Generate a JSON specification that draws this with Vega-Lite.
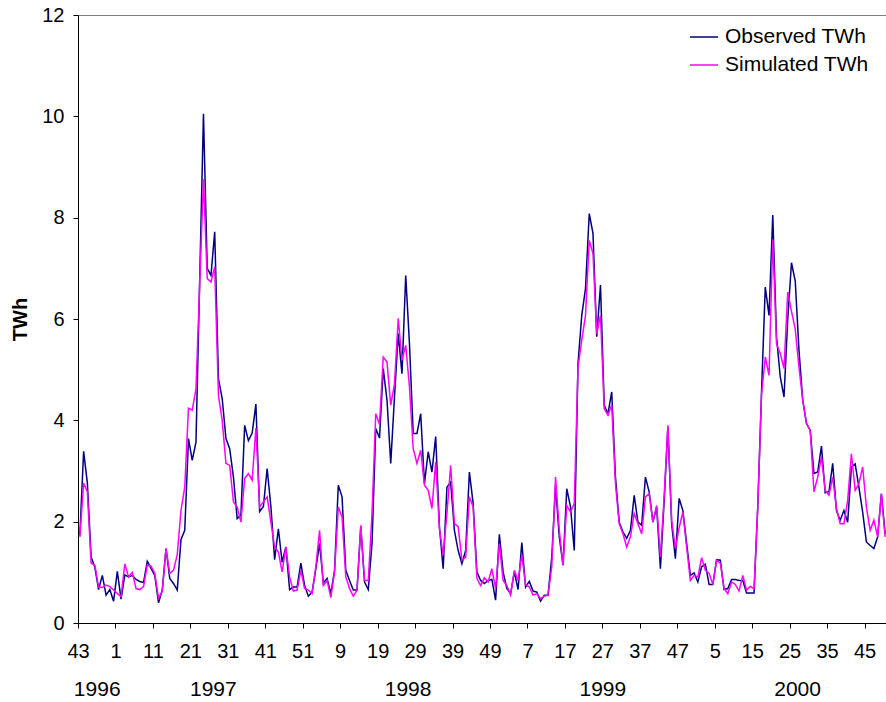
{
  "$schema": "https://vega.github.io/schema/vega-lite/v6.json",
  "width": 809,
  "height": 608,
  "autosize": {"type": "none"},
  "padding": {"left": 78, "top": 15, "right": 0, "bottom": 79},
  "background": "white",
  "config": {
    "font": "Liberation Sans",
    "view": {"stroke": "#808080", "strokeWidth": 1},
    "axis": {"domainColor": "#000000", "tickColor": "#000000", "labelColor": "#000000", "titleColor": "#000000", "grid": false, "labelFontSize": 20, "tickSize": 5, "domainWidth": 1, "tickWidth": 1}
  },
  "data": {"values": [
    {"i":0,"obs":1.73,"sim":1.70},{"i":1,"obs":3.39,"sim":2.76},{"i":2,"obs":2.76,"sim":2.59},{"i":3,"obs":1.30,"sim":1.18},{"i":4,"obs":1.10,"sim":1.14},
    {"i":5,"obs":0.66,"sim":0.71},{"i":6,"obs":0.94,"sim":0.70},{"i":7,"obs":0.55,"sim":0.75},{"i":8,"obs":0.66,"sim":0.72},{"i":9,"obs":0.43,"sim":0.65},
    {"i":10,"obs":1.02,"sim":0.58},{"i":11,"obs":0.47,"sim":0.52},{"i":12,"obs":0.95,"sim":1.17},{"i":13,"obs":0.91,"sim":0.91},{"i":14,"obs":0.94,"sim":1.00},
    {"i":15,"obs":0.86,"sim":0.68},{"i":16,"obs":0.82,"sim":0.66},{"i":17,"obs":0.80,"sim":0.72},{"i":18,"obs":1.22,"sim":1.14},{"i":19,"obs":1.08,"sim":1.12},
    {"i":20,"obs":0.94,"sim":0.98},{"i":21,"obs":0.40,"sim":0.49},{"i":22,"obs":0.65,"sim":0.62},{"i":23,"obs":1.47,"sim":1.47},{"i":24,"obs":0.88,"sim":0.98},
    {"i":25,"obs":0.78,"sim":1.04},{"i":26,"obs":0.65,"sim":1.35},{"i":27,"obs":1.65,"sim":2.22},{"i":28,"obs":1.83,"sim":2.68},{"i":29,"obs":3.64,"sim":4.24},
    {"i":30,"obs":3.21,"sim":4.20},{"i":31,"obs":3.57,"sim":4.62},{"i":32,"obs":6.80,"sim":6.70},{"i":33,"obs":10.05,"sim":8.76},{"i":34,"obs":7.00,"sim":6.80},
    {"i":35,"obs":6.86,"sim":6.73},{"i":36,"obs":7.72,"sim":7.03},{"i":37,"obs":4.82,"sim":4.49},{"i":38,"obs":4.43,"sim":4.00},{"i":39,"obs":3.64,"sim":3.15},
    {"i":40,"obs":3.44,"sim":3.11},{"i":41,"obs":2.88,"sim":2.39},{"i":42,"obs":2.06,"sim":2.29},{"i":43,"obs":2.13,"sim":1.99},{"i":44,"obs":3.90,"sim":2.85},
    {"i":45,"obs":3.60,"sim":2.95},{"i":46,"obs":3.75,"sim":2.82},{"i":47,"obs":4.32,"sim":3.85},{"i":48,"obs":2.20,"sim":2.29},{"i":49,"obs":2.30,"sim":2.39},
    {"i":50,"obs":3.05,"sim":2.49},{"i":51,"obs":2.30,"sim":1.99},{"i":52,"obs":1.25,"sim":1.50},{"i":53,"obs":1.86,"sim":1.40},{"i":54,"obs":1.20,"sim":1.01},
    {"i":55,"obs":1.50,"sim":1.50},{"i":56,"obs":0.66,"sim":0.91},{"i":57,"obs":0.71,"sim":0.63},{"i":58,"obs":0.71,"sim":0.65},{"i":59,"obs":1.18,"sim":1.04},
    {"i":60,"obs":0.74,"sim":0.68},{"i":61,"obs":0.53,"sim":0.65},{"i":62,"obs":0.61,"sim":0.58},{"i":63,"obs":1.07,"sim":1.11},{"i":64,"obs":1.57,"sim":1.83},
    {"i":65,"obs":0.79,"sim":0.74},{"i":66,"obs":0.88,"sim":0.84},{"i":67,"obs":0.58,"sim":0.50},{"i":68,"obs":1.04,"sim":1.01},{"i":69,"obs":2.72,"sim":2.29},
    {"i":70,"obs":2.49,"sim":2.09},{"i":71,"obs":1.04,"sim":0.91},{"i":72,"obs":0.84,"sim":0.68},{"i":73,"obs":0.65,"sim":0.53},{"i":74,"obs":0.65,"sim":0.65},
    {"i":75,"obs":1.90,"sim":1.93},{"i":76,"obs":0.81,"sim":0.84},{"i":77,"obs":0.66,"sim":0.84},{"i":78,"obs":1.57,"sim":2.16},{"i":79,"obs":3.84,"sim":4.13},
    {"i":80,"obs":3.65,"sim":3.92},{"i":81,"obs":5.02,"sim":5.25},{"i":82,"obs":4.40,"sim":5.15},{"i":83,"obs":3.15,"sim":4.30},{"i":84,"obs":4.46,"sim":4.72},
    {"i":85,"obs":5.71,"sim":6.01},{"i":86,"obs":4.92,"sim":5.19},{"i":87,"obs":6.86,"sim":5.48},{"i":88,"obs":5.51,"sim":4.66},{"i":89,"obs":3.74,"sim":3.44},
    {"i":90,"obs":3.74,"sim":3.15},{"i":91,"obs":4.13,"sim":3.41},{"i":92,"obs":2.75,"sim":2.72},{"i":93,"obs":3.38,"sim":2.62},{"i":94,"obs":2.98,"sim":2.26},
    {"i":95,"obs":3.68,"sim":3.18},{"i":96,"obs":1.90,"sim":1.86},{"i":97,"obs":1.07,"sim":1.34},{"i":98,"obs":2.68,"sim":2.16},{"i":99,"obs":2.78,"sim":3.11},
    {"i":100,"obs":1.83,"sim":1.96},{"i":101,"obs":1.43,"sim":1.90},{"i":102,"obs":1.17,"sim":1.24},{"i":103,"obs":1.43,"sim":1.30},{"i":104,"obs":2.98,"sim":2.49},
    {"i":105,"obs":2.36,"sim":2.29},{"i":106,"obs":1.01,"sim":0.88},{"i":107,"obs":0.84,"sim":0.74},{"i":108,"obs":0.78,"sim":0.89},{"i":109,"obs":0.84,"sim":0.81},
    {"i":110,"obs":0.86,"sim":1.07},{"i":111,"obs":0.45,"sim":0.68},{"i":112,"obs":1.75,"sim":1.57},{"i":113,"obs":1.01,"sim":0.84},{"i":114,"obs":0.68,"sim":0.74},
    {"i":115,"obs":0.58,"sim":0.55},{"i":116,"obs":1.01,"sim":1.04},{"i":117,"obs":0.66,"sim":0.84},{"i":118,"obs":1.59,"sim":1.34},{"i":119,"obs":0.71,"sim":0.76},
    {"i":120,"obs":0.82,"sim":0.71},{"i":121,"obs":0.63,"sim":0.55},{"i":122,"obs":0.61,"sim":0.58},{"i":123,"obs":0.43,"sim":0.48},{"i":124,"obs":0.55,"sim":0.53},
    {"i":125,"obs":0.55,"sim":0.55},{"i":126,"obs":1.30,"sim":1.11},{"i":127,"obs":2.70,"sim":2.88},{"i":128,"obs":1.70,"sim":1.83},{"i":129,"obs":1.14,"sim":1.14},
    {"i":130,"obs":2.65,"sim":2.32},{"i":131,"obs":2.29,"sim":2.19},{"i":132,"obs":1.43,"sim":2.36},{"i":133,"obs":5.12,"sim":5.05},{"i":134,"obs":6.07,"sim":5.58},
    {"i":135,"obs":6.60,"sim":6.07},{"i":136,"obs":8.08,"sim":7.55},{"i":137,"obs":7.69,"sim":7.29},{"i":138,"obs":5.65,"sim":5.71},{"i":139,"obs":6.67,"sim":6.07},
    {"i":140,"obs":4.30,"sim":4.23},{"i":141,"obs":4.13,"sim":4.10},{"i":142,"obs":4.56,"sim":4.30},{"i":143,"obs":2.88,"sim":2.75},{"i":144,"obs":1.99,"sim":1.96},
    {"i":145,"obs":1.80,"sim":1.76},{"i":146,"obs":1.67,"sim":1.50},{"i":147,"obs":1.83,"sim":1.70},{"i":148,"obs":2.52,"sim":2.16},{"i":149,"obs":1.99,"sim":1.96},
    {"i":150,"obs":1.93,"sim":1.76},{"i":151,"obs":2.88,"sim":2.49},{"i":152,"obs":2.59,"sim":2.55},{"i":153,"obs":1.99,"sim":1.99},{"i":154,"obs":2.29,"sim":2.32},
    {"i":155,"obs":1.07,"sim":1.30},{"i":156,"obs":2.40,"sim":2.50},{"i":157,"obs":3.87,"sim":3.90},{"i":158,"obs":1.96,"sim":2.03},{"i":159,"obs":1.27,"sim":1.47},
    {"i":160,"obs":2.46,"sim":1.88},{"i":161,"obs":2.22,"sim":2.19},{"i":162,"obs":1.57,"sim":1.50},{"i":163,"obs":0.94,"sim":0.84},{"i":164,"obs":0.99,"sim":0.94},
    {"i":165,"obs":0.81,"sim":0.91},{"i":166,"obs":1.11,"sim":1.29},{"i":167,"obs":1.16,"sim":1.04},{"i":168,"obs":0.76,"sim":0.98},{"i":169,"obs":0.76,"sim":0.76},
    {"i":170,"obs":1.25,"sim":1.24},{"i":171,"obs":1.24,"sim":1.18},{"i":172,"obs":0.66,"sim":0.68},{"i":173,"obs":0.68,"sim":0.58},{"i":174,"obs":0.86,"sim":0.81},
    {"i":175,"obs":0.86,"sim":0.76},{"i":176,"obs":0.84,"sim":0.63},{"i":177,"obs":0.84,"sim":0.94},{"i":178,"obs":0.59,"sim":0.65},{"i":179,"obs":0.59,"sim":0.72},
    {"i":180,"obs":0.59,"sim":0.68},{"i":181,"obs":2.30,"sim":2.30},{"i":182,"obs":4.56,"sim":4.50},{"i":183,"obs":6.63,"sim":5.25},{"i":184,"obs":6.07,"sim":4.89},
    {"i":185,"obs":8.05,"sim":7.57},{"i":186,"obs":5.65,"sim":5.51},{"i":187,"obs":4.86,"sim":5.32},{"i":188,"obs":4.46,"sim":5.02},{"i":189,"obs":6.00,"sim":6.53},
    {"i":190,"obs":7.11,"sim":6.15},{"i":191,"obs":6.75,"sim":5.80},{"i":192,"obs":5.38,"sim":5.05},{"i":193,"obs":4.40,"sim":4.40},{"i":194,"obs":3.94,"sim":3.94},
    {"i":195,"obs":3.80,"sim":3.80},{"i":196,"obs":2.95,"sim":2.59},{"i":197,"obs":2.98,"sim":2.88},{"i":198,"obs":3.49,"sim":3.28},{"i":199,"obs":2.57,"sim":2.62},
    {"i":200,"obs":2.59,"sim":2.52},{"i":201,"obs":3.15,"sim":2.88},{"i":202,"obs":2.22,"sim":2.26},{"i":203,"obs":2.03,"sim":1.96},{"i":204,"obs":2.22,"sim":1.96},
    {"i":205,"obs":1.99,"sim":2.42},{"i":206,"obs":3.08,"sim":3.34},{"i":207,"obs":3.14,"sim":2.62},{"i":208,"obs":2.68,"sim":2.75},{"i":209,"obs":2.19,"sim":3.08},
    {"i":210,"obs":1.60,"sim":2.29},{"i":211,"obs":1.53,"sim":1.83},{"i":212,"obs":1.47,"sim":2.03},{"i":213,"obs":1.70,"sim":1.70},{"i":214,"obs":2.55,"sim":2.55},
    {"i":215,"obs":1.76,"sim":1.70}
  ]},
  "transform": [{"fold": ["obs", "sim"], "as": ["series", "twh"]}],
  "layer": [
    {
      "mark": {"type": "line", "strokeWidth": 1.5, "interpolate": "linear"},
      "encoding": {
        "x": {
          "field": "i", "type": "quantitative",
          "scale": {"domain": [-0.5, 215.5], "nice": false, "zero": false},
          "axis": {
            "orient": "bottom", "title": null,
            "values": [-0.5, 9.5, 19.5, 29.5, 39.5, 49.5, 59.5, 69.5, 79.5, 89.5, 99.5, 109.5, 119.5, 129.5, 139.5, 149.5, 159.5, 169.5, 179.5, 189.5, 199.5, 209.5],
            "labelExpr": "['43','1','11','21','31','41','51','9','19','29','39','49','7','17','27','37','47','5','15','25','35','45'][round((datum.value + 0.5) / 10)]",
            "labelFlush": false, "labelOverlap": false, "labelPadding": 13
          }
        },
        "y": {
          "field": "twh", "type": "quantitative",
          "scale": {"domain": [0, 12], "nice": false},
          "axis": {"title": "TWh", "values": [0, 2, 4, 6, 8, 10, 12], "titleFontSize": 20, "titleFontWeight": "bold", "titlePadding": 11, "labelPadding": 9, "labelFlush": false}
        },
        "color": {
          "field": "series", "type": "nominal",
          "scale": {"domain": ["obs", "sim"], "range": ["#000080", "#FF00FF"]},
          "legend": {
            "orient": "none", "legendX": 611, "legendY": 7, "title": null,
            "symbolType": "stroke", "symbolSize": 784, "symbolStrokeWidth": 1.5,
            "labelFontSize": 21, "labelOffset": 6, "rowPadding": 3, "padding": 0,
            "labelColor": "#000000",
            "labelExpr": "datum.label == 'obs' ? 'Observed TWh' : 'Simulated TWh'"
          }
        }
      }
    },
    {
      "mark": {"type": "point", "opacity": 0},
      "encoding": {
        "x": {
          "field": "i", "type": "quantitative",
          "axis": {
            "orient": "bottom", "title": null, "domain": false, "ticks": false,
            "values": [4.5, 35.5, 87.5, 139.5, 191.5],
            "labelExpr": "['1996','1997','1998','1999','2000'][indexof([4.5, 35.5, 87.5, 139.5, 191.5], datum.value)]",
            "labelFlush": false, "labelOverlap": false, "labelPadding": 55, "labelFontSize": 21
          }
        }
      }
    }
  ],
  "resolve": {"axis": {"x": "independent"}}
}
